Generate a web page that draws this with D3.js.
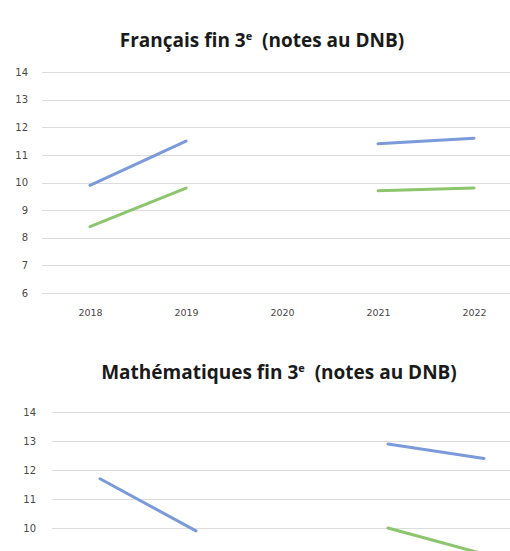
<!DOCTYPE html>
<html>
<head>
<meta charset="utf-8">
<script src="https://cdn.jsdelivr.net/npm/d3@7"></script>
<style>
    body { margin: 0; background: #fff; }
    svg { display: block; }
</style>
</head>
<body>
<div id="chart"></div>
<script>
// données
const years = ["2018", "2019", "2020", "2021", "2022"];
const yTicks = [6, 7, 8, 9, 10, 11, 12, 13, 14];
const francaisBleu = [9.9, 11.5, null, 11.4, 11.6];
const francaisVert = [8.4, 9.8, null, 9.7, 9.8];
const mathsBleu = [11.7, 9.9, null, 12.9, 12.4];
const mathsVert = [8.1, 8.9, null, 10.0, 9.1];

const bleu = "#7a9ad9";
const vert = "#8cc56c";
const grille = "#dcdcdc";
const H = 551;

var svg = d3.select("#chart")
    .append("svg")
    .attr("width", 510)
    .attr("height", H);

function drawChart(cfg) {
    var g = svg.append("g");

    var x = d3.scalePoint()
        .domain(years)
        .range([cfg.left, cfg.left + 480])
        .padding(0.5);

    var y = d3.scaleLinear()
        .domain([6, 14])
        .range([cfg.bottom, cfg.top]);

    // titre
    var title = g.append("text")
        .attr("x", cfg.titleX)
        .attr("y", cfg.titleY)
        .attr("text-anchor", "middle")
        .style("font-family", "'Open Sans', sans-serif")
        .style("font-weight", "bold")
        .style("font-size", "19px")
        .style("fill", "#1a1a1a");
    title.append("tspan").text(cfg.title + " 3");
    title.append("tspan")
        .attr("dy", "-7px")
        .style("font-size", "11px")
        .text("e");
    title.append("tspan")
        .attr("dy", "7px")
        .text("\u00a0 (notes au DNB)");

    // axe y + grille (seulement les graduations visibles)
    var yAxis = d3.axisLeft(y)
        .tickValues(yTicks.filter(t => y(t) < H - 4))
        .tickSizeInner(-(510 - cfg.left))
        .tickSizeOuter(0)
        .tickPadding(cfg.tickPad);

    var ga = g.append("g")
        .attr("transform", "translate(" + cfg.left + ",0)")
        .call(yAxis);

    ga.select(".domain").remove();
    ga.selectAll(".tick line")
        .style("stroke", grille)
        .style("stroke-width", "1px")
        .style("shape-rendering", "crispEdges");
    ga.selectAll(".tick text")
        .style("fill", "#4a4a4a")
        .style("font-family", "'DejaVu Sans', sans-serif")
        .style("font-size", "10px");

    // axe x
    if (cfg.showX) {
        var xAxis = d3.axisBottom(x)
            .tickSize(0)
            .tickPadding(0);
        var gx = g.append("g")
            .attr("transform", "translate(0," + cfg.xLabelY + ")")
            .call(xAxis);
        gx.select(".domain").remove();
        gx.selectAll(".tick text")
            .style("fill", "#4a4a4a")
            .style("font-family", "'DejaVu Sans', sans-serif")
            .style("font-size", "9.5px");
    }

    var line = d3.line()
        .defined(d => d != null)
        .x((d, i) => x(years[i]))
        .y(d => y(d));

    [[cfg.bleu, bleu], [cfg.vert, vert]].forEach(s => {
        g.append("path")
            .datum(s[0])
            .attr("d", line)
            .style("fill", "none")
            .style("stroke", s[1])
            .style("stroke-width", "3px")
            .style("stroke-linecap", "round");
    });
}

drawChart({
    title: "Français fin",
    titleX: 262, titleY: 47,
    left: 42, top: 72, bottom: 293,
    tickPad: 14,
    showX: true, xLabelY: 309,
    bleu: francaisBleu, vert: francaisVert
});

drawChart({
    title: "Mathématiques fin",
    titleX: 279, titleY: 379,
    left: 52, top: 412, bottom: 644,
    tickPad: 16,
    showX: false,
    bleu: mathsBleu, vert: mathsVert
});
</script>
</body>
</html>
